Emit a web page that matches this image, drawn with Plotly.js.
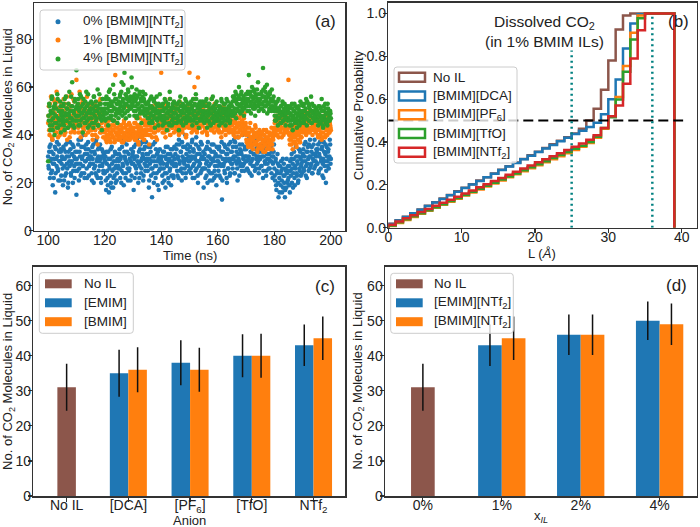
<!DOCTYPE html>
<html><head><meta charset="utf-8">
<script src="https://cdn.plot.ly/plotly-3.0.1.min.js"></script>
<style>html,body{margin:0;padding:0;background:#fff}#chart{width:700px;height:527px}</style>
</head><body><div id="chart"></div>
<script>
// ---------------- Panel (a): CO2 molecules in liquid vs time ----------------
// two interleaved sampling grids (every 0.25 ns, offset by 0.125 ns)
const timeStart = 100, timeStartMid = 100.125, timeStep = 0.25; // ns
const co2_0pct = [
31,26,35,29,24,33,38,28,22,30,16,34,27,31,25,36,29,21,33,28,
30,19,34,27,23,36,31,26,18,33,29,37,24,28,32,20,35,27,30,25,
15,33,28,38,26,31,23,35,30,27,40,24,32,29,36,22,30,34,27,31,
28,33,21,30,36,26,32,24,38,29,22,31,35,27,30,20,34,28,25,32,
24,31,17,28,22,33,16,26,30,20,35,25,18,29,23,32,27,21,30,26,
29,34,22,31,25,38,27,19,33,30,24,36,28,21,32,26,40,29,23,31,
33,17,30,27,36,24,31,39,28,22,34,29,26,37,31,23,30,35,27,32,
30,25,35,21,28,33,26,14,31,24,29,37,22,27,32,19,30,25,34,28,
26,31,20,28,33,24,18,30,27,35,22,29,25,32,19,28,34,23,27,30,
32,27,36,23,30,38,28,25,33,21,31,35,29,26,40,24,30,34,27,31,
29,35,24,31,38,27,33,22,30,36,26,32,20,29,34,28,37,25,31,30,
18,30,26,34,23,29,37,25,31,21,28,33,24,30,36,22,27,32,19,29,
31,25,35,28,22,33,13,30,27,36,24,29,32,20,34,26,30,23,37,28,
33,26,30,38,24,31,35,28,21,32,29,36,27,33,25,40,30,28,34,31,
34,29,37,25,31,39,28,33,23,30,36,27,32,38,26,31,35,29,24,33,
30,36,27,33,22,31,38,28,34,25,30,37,26,32,29,35,24,31,28,33,
26,21,30,17,24,28,14,22,27,19,25,16,30,23,20,14,26,18,24,21,
22,27,16,25,30,20,28,24,33,19,26,31,23,28,21,34,25,30,27,24,
29,34,25,31,37,27,22,33,30,36,26,31,28,35,24,32,29,38,27,31,
33,28,36,25,31,39,29,34,23,30,37,27,32,20,35,29,33,26,31,36,
30];
const co2_0pct_mid = [
27,33,22,36,30,25,19,32,28,35,24,30,37,26,21,33,29,34,23,31,
26,35,21,30,33,24,28,37,20,31,27,34,23,29,36,25,31,22,33,28,
30,25,36,21,33,28,38,24,31,27,35,22,29,34,26,32,37,23,30,28,
31,24,35,28,20,33,27,37,23,30,34,25,29,36,22,31,27,33,24,30,
29,21,33,25,19,30,27,23,34,18,28,31,22,26,33,20,29,24,32,27,
32,26,30,20,35,28,24,37,31,22,29,33,26,38,25,30,21,34,28,32,
28,35,22,31,26,38,29,20,33,27,36,24,30,32,21,34,28,25,37,29,
27,32,18,30,35,23,29,26,36,20,31,27,34,24,29,33,17,31,26,30,
29,23,33,26,21,31,35,24,28,32,20,30,26,34,23,29,31,22,35,27,
28,34,25,31,22,36,29,33,26,37,24,30,28,35,22,32,27,36,29,25,
33,26,30,37,22,34,28,31,25,39,29,23,35,27,32,24,30,36,26,33,
26,32,22,28,35,20,31,27,34,24,30,36,21,29,33,25,31,23,35,27,
29,34,23,31,27,37,21,33,28,25,35,30,22,32,26,36,29,24,33,30,
28,35,31,24,37,29,33,26,39,30,23,34,28,32,36,27,31,25,35,29,
31,26,35,30,38,24,33,29,36,27,32,37,25,34,30,28,39,31,26,35,
34,27,31,38,25,33,29,36,23,32,28,35,30,26,37,29,33,22,31,36,
23,29,19,25,32,20,27,16,24,29,21,26,18,28,23,17,25,30,20,27,
25,19,29,23,32,26,18,30,22,27,35,24,29,20,31,26,33,23,28,31,
32,26,36,29,23,33,28,35,25,31,38,27,33,24,30,36,26,32,29,34,
28,34,24,32,37,26,30,35,28,22,33,29,36,25,31,27,34,30,38,28];
const co2_1pct = [
45,52,40,48,56,43,38,50,46,54,41,47,58,44,39,51,46,42,49,53,
47,43,55,40,49,45,51,38,46,53,44,48,41,57,46,50,42,54,45,48,
63,44,50,41,47,53,39,46,55,43,49,45,51,40,48,56,44,47,52,42,
46,42,51,38,47,44,53,40,48,45,36,50,43,47,55,41,45,49,39,46,
41,39,44,37,42,40,46,38,43,41,50,39,42,44,37,65,41,40,43,38,
40,42,38,44,39,41,37,45,40,43,39,52,41,38,42,40,44,39,41,43,
42,39,45,41,38,47,40,43,36,44,41,49,39,42,46,40,38,44,41,45,
44,48,40,36,46,42,51,39,45,43,47,41,53,44,38,46,42,49,45,43,
66,45,41,50,43,47,39,52,44,48,42,46,55,40,45,49,43,47,41,50,
46,42,51,44,48,40,54,45,43,49,41,47,52,44,46,39,50,45,48,43,
66,44,48,41,52,46,43,60,45,49,42,47,64,44,50,43,46,53,41,48,
45,49,42,53,46,40,48,44,51,43,47,55,42,46,49,41,45,52,44,47,
43,47,41,50,45,39,48,44,52,42,46,40,49,45,43,51,41,47,44,48,
44,41,48,42,46,39,45,43,50,41,47,44,42,49,40,45,43,47,41,44,
40,37,43,35,41,38,45,36,39,42,34,40,37,44,36,41,33,39,35,42,
36,40,34,38,35,42,37,33,39,36,41,35,38,34,40,37,43,36,39,41,
43,46,40,48,42,45,39,47,44,41,49,43,46,40,45,42,48,44,41,47,
63,40,36,43,38,41,34,44,39,37,42,36,40,45,38,41,37,43,39,42,
44,41,47,43,50,40,46,42,48,45,41,49,43,46,40,47,44,42,48,45,
42,45,39,47,43,40,46,38,44,41,48,43,39,45,42,40,46,43,41,44,
42];
const co2_1pct_mid = [
48,42,53,45,50,39,47,55,43,49,52,41,46,54,44,48,40,51,45,50,
44,50,46,53,41,48,56,43,47,51,39,45,52,48,43,55,46,41,50,47,
46,52,43,49,58,45,41,51,47,54,42,48,44,53,46,50,41,49,45,52,
43,48,40,52,45,49,42,46,51,39,47,44,54,41,48,43,50,46,42,49,
42,38,45,40,43,39,47,41,37,44,40,42,39,46,38,43,41,45,40,39,
41,44,39,42,37,43,40,46,38,41,44,39,42,40,45,38,43,41,39,42,
40,43,38,45,41,39,44,37,42,47,40,43,39,45,41,38,46,42,40,44,
46,42,49,44,40,47,43,52,45,41,48,44,39,50,46,42,47,43,51,45,
47,43,50,45,41,48,46,53,42,49,44,47,40,51,45,43,48,46,52,44,
45,50,43,47,41,53,46,44,49,42,48,45,51,43,47,40,52,46,44,49,
47,43,51,45,49,42,55,46,44,50,41,48,45,52,43,47,49,44,51,46,
48,43,50,45,41,47,52,44,49,46,42,50,45,48,43,53,46,44,49,42,
46,42,49,44,47,41,51,45,43,48,44,50,42,46,49,43,47,45,42,50,
42,46,40,45,43,48,41,44,47,39,45,42,48,43,46,41,44,49,42,45,
38,41,36,40,43,37,39,35,42,38,41,36,39,43,37,40,34,38,41,36,
39,35,41,37,33,40,36,38,42,34,39,37,35,41,38,36,40,34,38,42,
45,41,47,43,40,46,44,48,42,45,39,47,43,46,41,48,44,42,46,43,
41,38,44,39,36,42,40,37,43,39,41,35,44,38,40,42,37,41,39,43,
46,43,49,42,47,44,41,48,45,43,50,46,42,47,44,49,43,46,41,47,
44,40,46,42,48,43,41,45,39,47,43,44,40,46,42,48,44,41,45,43];
const co2_4pct = [
29,46,52,42,49,55,44,47,51,40,53,48,45,57,43,50,46,54,41,48,
50,45,53,42,48,56,46,51,43,49,58,47,44,52,62,46,50,43,55,48,
67,48,53,44,50,57,46,52,49,41,55,47,51,45,58,49,43,53,47,50,
49,54,45,51,43,56,48,52,46,50,59,44,49,53,47,51,42,55,48,50,
51,46,55,49,53,44,58,50,47,54,48,52,61,46,51,55,49,53,45,50,
54,49,57,52,62,48,55,51,66,53,47,56,50,59,52,48,55,51,64,53,
52,56,48,54,50,59,47,53,51,57,49,55,45,52,58,50,54,48,53,51,
50,47,54,45,52,49,56,46,51,48,55,43,50,53,47,52,44,49,57,48,
48,52,44,50,46,55,47,51,42,49,53,45,58,48,50,44,52,47,54,49,
47,51,45,53,48,42,50,56,46,49,52,44,51,47,55,45,50,48,53,46,
49,53,46,51,44,55,48,50,47,57,45,52,49,43,51,54,47,50,46,53,
48,45,52,47,55,43,50,46,53,49,44,51,47,56,45,50,48,53,46,49,
46,50,44,52,48,55,45,51,47,49,53,44,50,46,54,48,51,45,52,49,
50,54,48,56,51,58,47,53,55,50,60,52,49,57,53,51,55,48,54,52,
53,57,50,55,65,52,58,49,54,56,51,59,53,48,57,52,55,62,50,54,
55,51,58,53,68,50,56,60,52,54,49,57,53,51,58,55,50,54,52,56,
50,46,53,48,51,44,55,47,50,52,45,49,53,46,51,48,44,52,47,50,
47,51,44,49,46,53,42,48,50,45,52,47,43,49,51,46,48,54,45,49,
48,52,45,50,47,55,44,49,53,46,51,48,56,45,50,47,52,46,49,51,
47,50,44,49,52,45,48,55,46,43,50,47,53,45,49,44,51,46,48,50,
47];
const co2_4pct_mid = [
48,53,44,50,46,56,42,49,52,45,48,51,43,55,47,50,44,52,49,46,
47,52,44,55,49,46,51,43,53,48,45,50,56,47,52,44,49,54,46,51,
52,46,55,48,51,44,56,49,47,53,50,45,54,48,52,46,57,50,44,51,
51,47,53,49,56,45,50,54,47,52,44,51,57,48,53,46,50,55,49,47,
53,49,56,51,47,55,52,59,48,53,50,46,54,57,51,48,55,50,53,47,
51,56,53,58,50,54,61,52,49,57,53,55,50,58,54,51,56,52,60,55,
54,50,57,52,55,48,56,53,51,58,50,54,52,56,49,55,51,57,53,50,
49,53,47,51,55,48,52,45,50,54,47,51,49,56,46,50,53,48,52,47,
50,46,53,48,51,45,54,49,47,52,50,44,55,48,51,46,53,49,45,51,
49,53,47,51,46,54,48,52,45,50,53,47,49,52,46,54,48,51,47,50,
51,47,54,49,52,46,50,53,48,55,47,51,49,53,46,50,52,48,54,49,
50,47,54,49,46,52,48,53,45,51,49,55,47,52,48,46,51,49,54,47,
48,52,46,51,49,54,47,50,53,46,51,48,55,49,47,52,50,46,53,48,
52,56,50,55,49,54,57,51,53,56,50,55,52,58,50,54,56,51,53,57,
55,52,58,54,50,57,53,56,60,52,55,58,51,56,54,59,52,57,53,55,
53,57,51,56,59,54,52,58,55,61,53,56,50,57,54,52,59,55,51,54,
48,52,46,50,54,47,51,49,45,52,48,54,46,50,53,47,49,51,46,52,
49,46,52,48,44,51,47,50,53,46,49,45,51,48,52,44,50,47,53,48,
50,46,53,48,51,47,54,49,46,52,48,50,45,53,49,47,52,48,50,46,
49,46,52,48,45,51,47,50,44,52,48,46,51,49,45,53,47,50,46,49];
const scatterLabels = ['0% [BMIM][NTf<sub>2</sub>]','1% [BMIM][NTf<sub>2</sub>]','4% [BMIM][NTf<sub>2</sub>]'];

// ---------------- Panel (b): cumulative probability vs L ----------------
const binEdges = [0,1,2,3,4,5,6,7,8,9,10,11,12,13,14,15,16,17,18,19,20,21,22,23,24,25,26,27,28,29,30,31,32,33,34,35,36,37,38,39];
const cdfNoIL = [0.018,0.035,0.051,0.068,0.085,0.102,0.119,0.136,0.153,0.170,0.186,0.203,0.220,0.236,0.253,0.270,0.287,0.304,0.321,0.338,0.355,0.372,0.389,0.406,0.422,0.440,0.462,0.500,0.555,0.644,0.780,0.925,0.990,1,1,1,1,1,1];
const cdfDCA  = [0.017,0.034,0.050,0.067,0.084,0.101,0.118,0.134,0.151,0.168,0.185,0.202,0.218,0.235,0.252,0.269,0.286,0.302,0.319,0.336,0.353,0.370,0.386,0.403,0.420,0.437,0.452,0.470,0.490,0.530,0.600,0.692,0.836,0.953,0.996,1,1,1,1];
const cdfPF6  = [0.008,0.022,0.036,0.050,0.065,0.079,0.093,0.107,0.121,0.135,0.150,0.164,0.178,0.192,0.206,0.220,0.235,0.249,0.263,0.277,0.291,0.305,0.320,0.334,0.348,0.363,0.378,0.395,0.420,0.462,0.520,0.610,0.755,0.910,0.990,1,1,1,1];
const cdfTfO  = [0.010,0.025,0.039,0.053,0.068,0.082,0.096,0.110,0.125,0.139,0.153,0.168,0.182,0.196,0.210,0.225,0.239,0.253,0.268,0.282,0.296,0.310,0.325,0.339,0.353,0.368,0.383,0.400,0.425,0.465,0.515,0.598,0.728,0.878,0.978,1,1,1,1];
const cdfNTf2 = [0.014,0.029,0.044,0.058,0.073,0.087,0.102,0.116,0.131,0.145,0.160,0.174,0.189,0.203,0.218,0.232,0.247,0.261,0.276,0.290,0.305,0.319,0.334,0.348,0.363,0.378,0.393,0.410,0.432,0.465,0.520,0.570,0.672,0.790,0.922,1,1,1,1];
const cdfLabels = ['No IL','[BMIM][DCA]','[BMIM][PF<sub>6</sub>]','[BMIM][TfO]','[BMIM][NTf<sub>2</sub>]'];
const medianLevel = 0.5;
const medianLineEnd = 40.2;
const dissolvedBounds = [25, 36];

// ---------------- Panel (c): by anion ----------------
const anions = ['No IL','[DCA]','[PF<sub>6</sub>]','[TfO]','NTf<sub>2</sub>'];
const noILMean = 31, noILErr = 6.7;
const emimMean = [35,38,40,43], emimErr = [6.7,6.4,6.1,5.9];
const bmimMean = [36,36,40,45], bmimErr = [6.4,6.3,6.3,6.2];
const barLabelsC = ['No IL','[EMIM]','[BMIM]'];

// ---------------- Panel (d): by IL fraction ----------------
const fractions = ['0%','1%','2%','4%'];
const emimNTf2Mean = [43,46,50], emimNTf2Err = [5.9,5.8,5.5];
const bmimNTf2Mean = [45,46,49], bmimNTf2Err = [6.2,5.8,5.9];
const barLabelsD = ['No IL','[EMIM][NTf<sub>2</sub>]','[BMIM][NTf<sub>2</sub>]'];

// ---------------- styling ----------------
const C = {blue:'#1f77b4', orange:'#ff7f0e', green:'#2ca02c', red:'#d62728', brown:'#8c564b'};
const FONT = 'Liberation Sans, Arial, sans-serif';
const W = 700, H = 527;
const px = x => x / W, py = y => 1 - y / H;

const traces = [];
// (a) scatter
[[co2_0pct, co2_0pct_mid, C.blue],[co2_1pct, co2_1pct_mid, C.orange],[co2_4pct, co2_4pct_mid, C.green]].forEach(([vals, mids, col], k) => {
  const xs = vals.map((_, i) => timeStart + i * timeStep).concat(mids.map((_, i) => timeStartMid + i * timeStep));
  traces.push({type:'scatter', mode:'markers', name: scatterLabels[k], x: xs, y: vals.concat(mids),
    marker:{color: col, size: 4.6}, xaxis:'x', yaxis:'y', showlegend:false, hoverinfo:'x+y'});
});
// (b) cumulative step curves
function stepPath(edges, cdf) {
  const xs = [edges[0]], ys = [0];
  for (let k = 0; k < cdf.length; k++) { xs.push(edges[k]); ys.push(cdf[k]); }
  xs.push(edges[cdf.length]); ys.push(cdf[cdf.length - 1]);
  xs.push(edges[cdf.length]); ys.push(0);
  return {xs, ys};
}
const cdfSeries = [[cdfNoIL, C.brown],[cdfDCA, C.blue],[cdfPF6, C.orange],[cdfTfO, C.green],[cdfNTf2, C.red]];
cdfSeries.forEach(([cdf, col], k) => {
  const s = stepPath(binEdges, cdf);
  traces.push({type:'scatter', mode:'lines', name: cdfLabels[k], x: s.xs, y: s.ys,
    line:{color: col, width: 2.5, shape:'hv'}, xaxis:'x2', yaxis:'y2', showlegend:false});
});
// (c) bars
const errStyle = arr => ({type:'data', array: arr, color:'#111', thickness:1.5, width:0, visible:true});
traces.push({type:'bar', name: barLabelsC[0], x:[anions[0]], y:[noILMean], width:0.3, offset:-0.15,
  marker:{color:C.brown}, error_y: errStyle([noILErr]), xaxis:'x3', yaxis:'y3', showlegend:false});
traces.push({type:'bar', name: barLabelsC[1], x: anions.slice(1), y: emimMean, width:0.3, offset:-0.3,
  marker:{color:C.blue}, error_y: errStyle(emimErr), xaxis:'x3', yaxis:'y3', showlegend:false});
traces.push({type:'bar', name: barLabelsC[2], x: anions.slice(1), y: bmimMean, width:0.3, offset:0,
  marker:{color:C.orange}, error_y: errStyle(bmimErr), xaxis:'x3', yaxis:'y3', showlegend:false});
// (d) bars
traces.push({type:'bar', name: barLabelsD[0], x:[fractions[0]], y:[noILMean], width:0.3, offset:-0.15,
  marker:{color:C.brown}, error_y: errStyle([noILErr]), xaxis:'x4', yaxis:'y4', showlegend:false});
traces.push({type:'bar', name: barLabelsD[1], x: fractions.slice(1), y: emimNTf2Mean, width:0.3, offset:-0.3,
  marker:{color:C.blue}, error_y: errStyle(emimNTf2Err), xaxis:'x4', yaxis:'y4', showlegend:false});
traces.push({type:'bar', name: barLabelsD[2], x: fractions.slice(1), y: bmimNTf2Mean, width:0.3, offset:0,
  marker:{color:C.orange}, error_y: errStyle(bmimNTf2Err), xaxis:'x4', yaxis:'y4', showlegend:false});

// axes
const axBase = {showline:true, linecolor:'#333', linewidth:1.5, mirror:true, ticks:'outside', ticklen:4,
  tickwidth:1.2, tickcolor:'#333', showgrid:false, zeroline:false, tickfont:{size:14, color:'#222', family:FONT}};
const xBase = Object.assign({}, axBase, {ticklabelstandoff:-8});
const yBase = Object.assign({}, axBase, {ticklabelstandoff:-6});
const yTitle = 'No. of CO<sub>2</sub> Molecules in Liquid';

const layout = {
  width: W, height: H, margin:{l:0, r:0, t:0, b:0}, paper_bgcolor:'#fff', plot_bgcolor:'#fff',
  font:{family:FONT, color:'#222'}, barmode:'overlay', showlegend:false,
  xaxis: Object.assign({}, xBase, {domain:[px(34), px(345)], range:[95, 205], tickvals:[100,120,140,160,180,200], anchor:'y'}),
  yaxis: Object.assign({}, yBase, {domain:[py(230.7), py(3.3)], range:[0, 95], tickvals:[0,20,40,60,80], anchor:'x'}),
  xaxis2: Object.assign({}, xBase, {domain:[px(388.3), px(696.7)], range:[0, 42.05], tickvals:[0,10,20,30,40], anchor:'y2'}),
  yaxis2: Object.assign({}, yBase, {domain:[py(227.7), py(2.7)], range:[0, 1.05], tickvals:[0,0.2,0.4,0.6,0.8,1.0],
    tickformat:'.1f', anchor:'x2'}),
  xaxis3: Object.assign({}, xBase, {domain:[px(33.3), px(345)], type:'category', categoryorder:'array', categoryarray:anions,
    range:[-0.54, 4.51], anchor:'y3'}),
  yaxis3: Object.assign({}, yBase, {domain:[py(496), py(266.7)], range:[0, 65.4], tickvals:[0,10,20,30,40,50,60], anchor:'x3'}),
  xaxis4: Object.assign({}, xBase, {domain:[px(385), px(696.7)], type:'category', categoryorder:'array', categoryarray:fractions,
    range:[-0.48, 3.47], anchor:'y4'}),
  yaxis4: Object.assign({}, yBase, {domain:[py(496), py(266.7)], range:[0, 65.4], tickvals:[0,10,20,30,40,50,60], anchor:'x4'}),
  shapes: [], annotations: []
};

// axis titles (placed as text at the reference positions)
const titleFont = {size:13, color:'#222', family:FONT};
[['Time (ns)', 190, 255, 0],[yTitle, 8.5, 116.8, -90],
 ['L (<i>Å</i>)', 542, 253, 0],['Cumulative Probability', 358, 115.2, -90],
 ['Anion', 189, 520.5, 0],[yTitle, 8.5, 381.4, -90],
 ['x<sub><i>IL</i></sub>', 540.7, 516, 0],[yTitle, 358, 381.4, -90]].forEach(([t, x, y, a]) =>
  layout.annotations.push({xref:'paper', yref:'paper', x:px(x), y:py(y), xanchor:'center', yanchor:'middle',
    text:t, textangle:a, showarrow:false, font:titleFont}));

// reference lines in (b)
layout.shapes.push({type:'line', xref:'x2', yref:'y2', x0:0, x1:medianLineEnd, y0:medianLevel, y1:medianLevel,
  line:{color:'#000', width:2, dash:'10px,5px'}, layer:'above'});
dissolvedBounds.forEach(v => layout.shapes.push({type:'line', xref:'x2', yref:'y2', x0:v, x1:v, y0:0, y1:1,
  line:{color:'#008080', width:2.5, dash:'2px,3.5px'}, layer:'above'}));

// manual legends
function roundedBox(x0, y0, x1, y1, r) {
  const X = px, Y = py;
  return `M${X(x0+r)},${Y(y0)} L${X(x1-r)},${Y(y0)} Q${X(x1)},${Y(y0)} ${X(x1)},${Y(y0+r)} ` +
         `L${X(x1)},${Y(y1-r)} Q${X(x1)},${Y(y1)} ${X(x1-r)},${Y(y1)} L${X(x0+r)},${Y(y1)} ` +
         `Q${X(x0)},${Y(y1)} ${X(x0)},${Y(y1-r)} L${X(x0)},${Y(y0+r)} Q${X(x0)},${Y(y0)} ${X(x0+r)},${Y(y0)} Z`;
}
function legendBox(x0, y0, x1, y1) {
  layout.shapes.push({type:'path', path: roundedBox(x0, y0, x1, y1, 3), xref:'paper', yref:'paper',
    fillcolor:'rgba(255,255,255,0.8)', line:{color:'#cccccc', width:1}, layer:'above'});
}
function legendText(x, y, text) {
  layout.annotations.push({xref:'paper', yref:'paper', x: px(x), y: py(y), xanchor:'left', yanchor:'middle',
    text, showarrow:false, font:{size:13.5, color:'#222', family:FONT}});
}
// (a)
legendBox(40, 10, 185, 70);
[[21.7, C.blue],[40, C.orange],[59, C.green]].forEach(([cy, col], k) => {
  layout.shapes.push({type:'circle', xref:'paper', yref:'paper', x0:px(55.5), x1:px(60.5), y0:py(cy+2.5), y1:py(cy-2.5),
    fillcolor: col, line:{width:0}, layer:'above'});
  legendText(81, cy, scatterLabels[k]);
});
// (b)
legendBox(394, 67, 517, 163);
[77.2, 96.0, 114.7, 133.5, 152.2].forEach((cy, k) => {
  layout.shapes.push({type:'rect', xref:'paper', yref:'paper', x0:px(399), x1:px(425), y0:py(cy+4.5), y1:py(cy-4.5),
    fillcolor:'rgba(0,0,0,0)', line:{color: cdfSeries[k][1], width:2.5}, layer:'above'});
  legendText(430.5, cy, cdfLabels[k]);
});
// (c)
legendBox(39.3, 272.7, 133.3, 333.3);
[[283.8, C.brown],[302.8, C.blue],[321.7, C.orange]].forEach(([cy, col], k) => {
  layout.shapes.push({type:'rect', xref:'paper', yref:'paper', x0:px(45), x1:px(71.7), y0:py(cy+4.5), y1:py(cy-4.5),
    fillcolor: col, line:{width:0}, layer:'above'});
  legendText(81.5, cy, barLabelsC[k]);
});
// (d)
legendBox(390.7, 273.3, 513.3, 333.3);
[[283.8, C.brown],[302.8, C.blue],[321.7, C.orange]].forEach(([cy, col], k) => {
  layout.shapes.push({type:'rect', xref:'paper', yref:'paper', x0:px(396), x1:px(422.7), y0:py(cy+4.5), y1:py(cy-4.5),
    fillcolor: col, line:{width:0}, layer:'above'});
  legendText(431.5, cy, barLabelsD[k]);
});

// panel labels and annotation text in (b)
const panelFont = {size:17, color:'#222', family:FONT};
[['(a)', 325, 21.7],['(b)', 678, 21.5],['(c)', 325, 286.7],['(d)', 676.7, 285.5]].forEach(([t, x, y]) =>
  layout.annotations.push({xref:'paper', yref:'paper', x:px(x), y:py(y), xanchor:'center', yanchor:'middle',
    text:t, showarrow:false, font:panelFont}));
layout.annotations.push({xref:'paper', yref:'paper', x:px(544), y:py(31), xanchor:'center', yanchor:'middle',
  text:'Dissolved CO<sub>2</sub><br>(in 1% BMIM ILs)', showarrow:false, bgcolor:'#fff', borderpad:0,
  font:{size:15.5, color:'#222', family:FONT}});

Plotly.newPlot('chart', traces, layout, {staticPlot:true, displayModeBar:false});
</script>
</body></html>
